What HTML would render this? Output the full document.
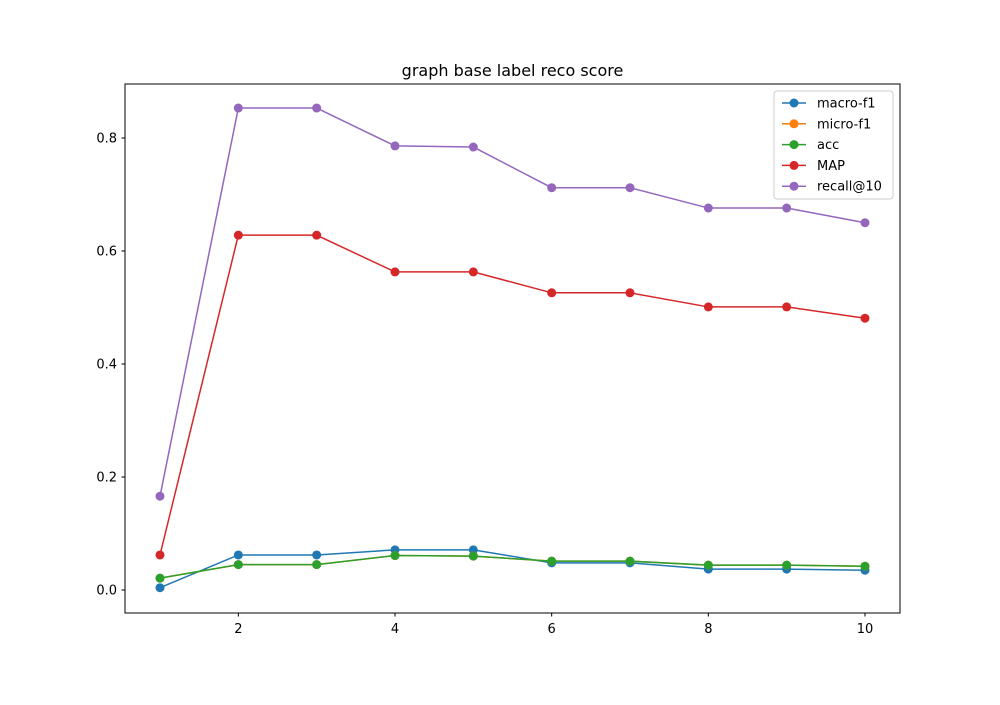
<!DOCTYPE html>
<html><head><meta charset="utf-8"><style>body{margin:0;background:#fff}svg text{font-family:"DejaVu Sans","Liberation Sans",sans-serif}</style></head>
<body>
<svg id="chart" width="1000" height="700">
<rect x="0" y="0" width="1000" height="700" fill="#fff"/>
<text x="512.5" y="76" font-size="16" text-anchor="middle">graph base label reco score</text>
<g id="plot"></g>
<rect x="125" y="84" width="775" height="529" fill="none" stroke="#000" stroke-width="1"/>
</svg>
<script>
const xs = [1,2,3,4,5,6,7,8,9,10];
const macroF1 = [0.004,0.062,0.062,0.071,0.071,0.048,0.048,0.037,0.037,0.035];
const microF1 = [0.021,0.045,0.045,0.061,0.060,0.051,0.051,0.044,0.044,0.042];
const acc = [0.021,0.045,0.045,0.061,0.060,0.051,0.051,0.044,0.044,0.042];
const mapScore = [0.062,0.628,0.628,0.563,0.563,0.526,0.526,0.501,0.501,0.481];
const recall10 = [0.166,0.853,0.853,0.786,0.784,0.712,0.712,0.676,0.676,0.650];
const xTicks = [2,4,6,8,10];
const yTicks = [0.0,0.2,0.4,0.6,0.8];
const seriesNames = ["macro-f1","micro-f1","acc","MAP","recall@10"];
const seriesColors = ["#1f77b4","#ff7f0e","#2ca02c","#d62728","#9467bd"];
const seriesData = [macroF1,microF1,acc,mapScore,recall10];

const NS="http://www.w3.org/2000/svg";
const g=document.getElementById('plot');
function xScale(v){return 160+(v-1)*(865-160)/9;}
function yScale(v){return 590-v*565;}
function mk(t,a){const e=document.createElementNS(NS,t);for(const k in a)e.setAttribute(k,a[k]);return e;}

xTicks.forEach(t=>{
  const x=xScale(t);
  const l=mk('line',{x1:x,x2:x,y1:613,y2:616.5,stroke:'#000'});
  
  
  g.appendChild(l);
  const tx=mk('text',{x:x,y:633,'font-size':13,'text-anchor':'middle'});
  
  
  tx.textContent=String(t);g.appendChild(tx);
});
yTicks.forEach(t=>{
  const y=yScale(t);
  const l=mk('line',{x1:121.5,x2:125,y1:y,y2:y,stroke:'#000'});
  
  
  g.appendChild(l);
  const tx=mk('text',{x:117,y:y+4.5,'font-size':13,'text-anchor':'end'});
  
  
  tx.textContent=t.toFixed(1);g.appendChild(tx);
});
seriesData.forEach((d,i)=>{
  const pts=d.map((v,j)=>xScale(xs[j])+','+yScale(v)).join(' ');
  const pl=mk('polyline',{points:pts,fill:'none',stroke:seriesColors[i],'stroke-width':1.5});
  
  
  g.appendChild(pl);
  d.forEach((v,j)=>{
    const c=mk('circle',{cx:xScale(xs[j]),cy:yScale(v),r:4.5,fill:seriesColors[i]});
    
    
    g.appendChild(c);
  });
});
// legend
const lg=mk('g',{});


g.appendChild(lg);
lg.appendChild(mk('rect',{x:774,y:91,width:119,height:108,rx:3,fill:'#fff','fill-opacity':0.8,stroke:'#ccc'}));
seriesNames.forEach((n,i)=>{
  const y=103+i*20.8;
  const e=mk('g',{});
  
  
  e.appendChild(mk('line',{x1:782,x2:806,y1:y,y2:y,stroke:seriesColors[i],'stroke-width':1.5}));
  e.appendChild(mk('circle',{cx:794,cy:y,r:4.5,fill:seriesColors[i]}));
  const t=mk('text',{x:817,y:y+4.5,'font-size':13});
  t.textContent=n;e.appendChild(t);
  lg.appendChild(e);
});
</script>
</body></html>
